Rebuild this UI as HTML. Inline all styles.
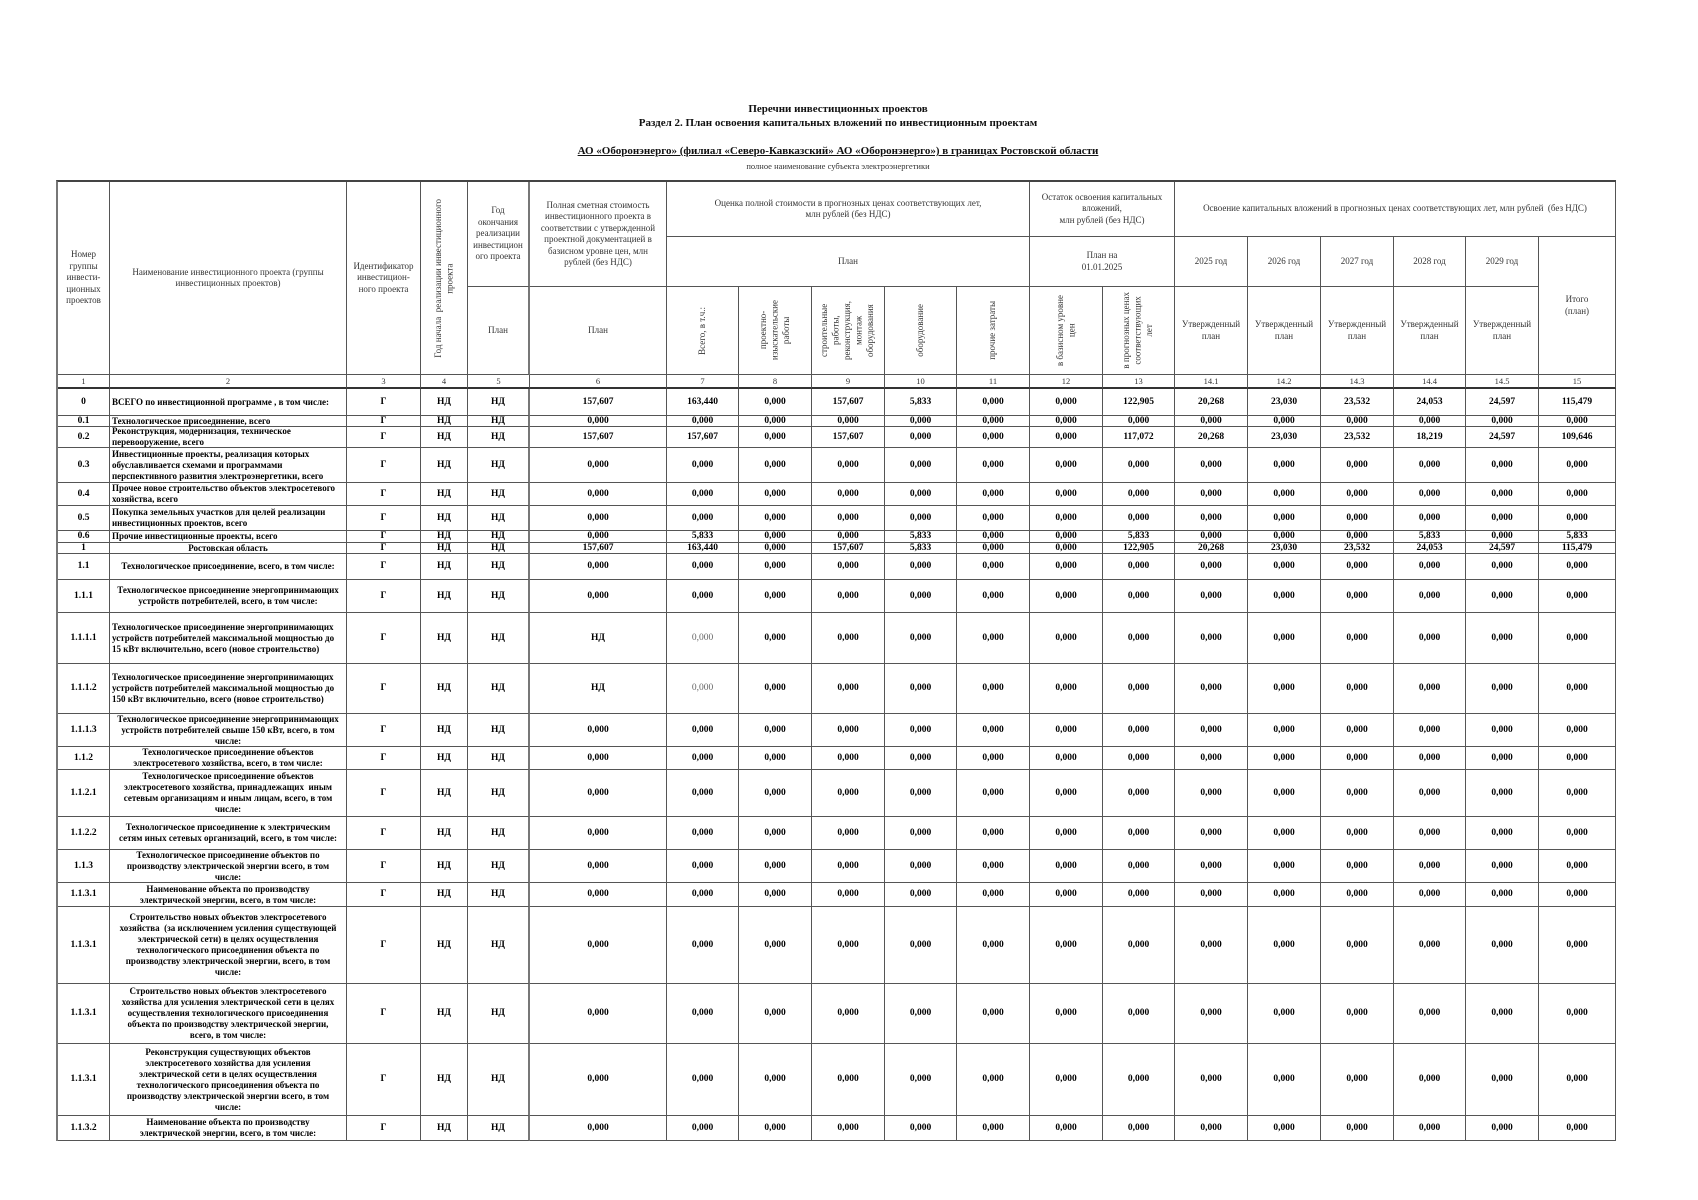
<!DOCTYPE html>
<html lang="ru">
<head>
<meta charset="utf-8">
<style>
html,body{margin:0;padding:0;background:#fff;}
body{width:1698px;height:1200px;position:relative;overflow:hidden;font-family:"Liberation Serif","DejaVu Serif",serif;color:#000;}
.t{position:absolute;left:0;width:1676px;text-align:center;font-weight:bold;font-size:11px;line-height:14px;color:#111;white-space:nowrap;}
.sub{font-weight:normal;font-size:8.5px;color:#333;}
.g{position:absolute;left:56px;top:180px;display:grid;
grid-template-columns:52px 237px 74px 47px 62px 137px 72px 73px 73px 72px 73px 73px 72px 73px 73px 73px 72px 73px 77px;
grid-template-rows:55px 50px 88px 14px 27px 11px 21px 35px 23px 25px 12px 11px 26px 33px 51px 50px 33px 23px 47px 33px 33px 24px 77px 60px 72px 25px;
border-left:2px solid #777;border-top:2px solid #444;}
.g>div{border-right:1px solid #555;border-bottom:1px solid #555;display:flex;align-items:center;justify-content:center;text-align:center;font-size:9.5px;font-weight:bold;line-height:11px;white-space:nowrap;overflow:visible;min-width:0;min-height:0;color:#000;}
.g>div.h{font-weight:normal;font-size:9px;line-height:11.5px;color:#333;}
.g>div.nr{font-weight:normal;font-size:8.5px;color:#333;line-height:10px;border-bottom:2px solid #333;}
.g>div.l{justify-content:flex-start;text-align:left;padding-left:2px;font-size:9px;}
.g>div.c{font-size:9px;}
.g>div.lt{font-weight:normal;color:#666;}
.v{writing-mode:vertical-rl;transform:rotate(180deg);text-align:center;}
.g>div.rb{border-right:2px solid #777;}
</style>
</head>
<body>
<div class="t" style="top:102px;">Перечни инвестиционных проектов</div>
<div class="t" style="top:116px;">Раздел 2. План освоения капитальных вложений по инвестиционным проектам</div>
<div class="t" style="top:144px;text-decoration:underline;">АО «Оборонэнерго» (филиал «Северо-Кавказский» АО «Оборонэнерго») в границах Ростовской области</div>
<div class="t sub" style="top:159px;">полное наименование субъекта электроэнергетики</div>

<div class="g">
<!-- header -->
<div class="h" style="grid-column:1;grid-row:1/4;">Номер<br>группы<br>инвести-<br>ционных<br>проектов</div>
<div class="h" style="grid-column:2;grid-row:1/4;">Наименование инвестиционного проекта (группы<br>инвестиционных проектов)</div>
<div class="h" style="grid-column:3;grid-row:1/4;">Идентификатор<br>инвестицион-<br>ного проекта</div>
<div class="h" style="grid-column:4;grid-row:1/4;"><span class="v">Год начала&nbsp; реализации инвестиционного<br>проекта</span></div>
<div class="h rb" style="grid-column:5;grid-row:1/3;">Год<br>окончания<br>реализации<br>инвестицион<br>ого проекта</div>
<div class="h" style="grid-column:6;grid-row:1/3;">Полная сметная стоимость<br>инвестиционного проекта в<br>соответствии с утвержденной<br>проектной документацией в<br>базисном уровне цен, млн<br>рублей (без НДС)</div>
<div class="h" style="grid-column:7/12;grid-row:1;">Оценка полной стоимости в прогнозных ценах соответствующих лет,<br>млн рублей (без НДС)</div>
<div class="h" style="grid-column:12/14;grid-row:1;">Остаток освоения капитальных<br>вложений,<br>млн рублей (без НДС)</div>
<div class="h" style="grid-column:14/20;grid-row:1;">Освоение капитальных вложений в прогнозных ценах соответствующих лет, млн рублей&nbsp; (без НДС)</div>
<div class="h" style="grid-column:7/12;grid-row:2;">План</div>
<div class="h" style="grid-column:12/14;grid-row:2;">План на<br>01.01.2025</div>
<div class="h" style="grid-column:14;grid-row:2;">2025 год</div>
<div class="h" style="grid-column:15;grid-row:2;">2026 год</div>
<div class="h" style="grid-column:16;grid-row:2;">2027 год</div>
<div class="h" style="grid-column:17;grid-row:2;">2028 год</div>
<div class="h" style="grid-column:18;grid-row:2;">2029 год</div>
<div class="h" style="grid-column:19;grid-row:2/4;">Итого<br>(план)</div>
<div class="h rb" style="grid-column:5;grid-row:3;">План</div>
<div class="h" style="grid-column:6;grid-row:3;">План</div>
<div class="h" style="grid-column:7;grid-row:3;"><span class="v">Всего, в т.ч.:</span></div>
<div class="h" style="grid-column:8;grid-row:3;"><span class="v">проектно-<br>изыскательские<br>работы</span></div>
<div class="h" style="grid-column:9;grid-row:3;"><span class="v">строительные<br>работы,<br>реконструкция,<br>монтаж<br>оборудования</span></div>
<div class="h" style="grid-column:10;grid-row:3;"><span class="v">оборудование</span></div>
<div class="h" style="grid-column:11;grid-row:3;"><span class="v">прочие затраты</span></div>
<div class="h" style="grid-column:12;grid-row:3;"><span class="v">в базисном уровне<br>цен</span></div>
<div class="h" style="grid-column:13;grid-row:3;"><span class="v">в прогнозных ценах<br>соответствующих<br>лет</span></div>
<div class="h" style="grid-column:14;grid-row:3;">Утвержденный<br>план</div>
<div class="h" style="grid-column:15;grid-row:3;">Утвержденный<br>план</div>
<div class="h" style="grid-column:16;grid-row:3;">Утвержденный<br>план</div>
<div class="h" style="grid-column:17;grid-row:3;">Утвержденный<br>план</div>
<div class="h" style="grid-column:18;grid-row:3;">Утвержденный<br>план</div>

<!-- number row -->
<div class="nr">1</div><div class="nr">2</div><div class="nr">3</div><div class="nr">4</div><div class="nr">5</div><div class="nr">6</div><div class="nr">7</div><div class="nr">8</div><div class="nr">9</div><div class="nr">10</div><div class="nr">11</div><div class="nr">12</div><div class="nr">13</div><div class="nr">14.1</div><div class="nr">14.2</div><div class="nr">14.3</div><div class="nr">14.4</div><div class="nr">14.5</div><div class="nr">15</div>

<!-- 0 -->
<div>0</div><div class="l">ВСЕГО по инвестиционной программе , в том числе:</div><div>Г</div><div>НД</div><div class="rb">НД</div><div>157,607</div><div>163,440</div><div>0,000</div><div>157,607</div><div>5,833</div><div>0,000</div><div>0,000</div><div>122,905</div><div>20,268</div><div>23,030</div><div>23,532</div><div>24,053</div><div>24,597</div><div>115,479</div>
<!-- 0.1 -->
<div>0.1</div><div class="l">Технологическое присоединение, всего</div><div>Г</div><div>НД</div><div class="rb">НД</div><div>0,000</div><div>0,000</div><div>0,000</div><div>0,000</div><div>0,000</div><div>0,000</div><div>0,000</div><div>0,000</div><div>0,000</div><div>0,000</div><div>0,000</div><div>0,000</div><div>0,000</div><div>0,000</div>
<!-- 0.2 -->
<div>0.2</div><div class="l">Реконструкция, модернизация, техническое<br>перевооружение, всего</div><div>Г</div><div>НД</div><div class="rb">НД</div><div>157,607</div><div>157,607</div><div>0,000</div><div>157,607</div><div>0,000</div><div>0,000</div><div>0,000</div><div>117,072</div><div>20,268</div><div>23,030</div><div>23,532</div><div>18,219</div><div>24,597</div><div>109,646</div>
<!-- 0.3 -->
<div>0.3</div><div class="l">Инвестиционные проекты, реализация которых<br>обуславливается схемами и программами<br>перспективного развития электроэнергетики, всего</div><div>Г</div><div>НД</div><div class="rb">НД</div><div>0,000</div><div>0,000</div><div>0,000</div><div>0,000</div><div>0,000</div><div>0,000</div><div>0,000</div><div>0,000</div><div>0,000</div><div>0,000</div><div>0,000</div><div>0,000</div><div>0,000</div><div>0,000</div>
<!-- 0.4 -->
<div>0.4</div><div class="l">Прочее новое строительство объектов электросетевого<br>хозяйства, всего</div><div>Г</div><div>НД</div><div class="rb">НД</div><div>0,000</div><div>0,000</div><div>0,000</div><div>0,000</div><div>0,000</div><div>0,000</div><div>0,000</div><div>0,000</div><div>0,000</div><div>0,000</div><div>0,000</div><div>0,000</div><div>0,000</div><div>0,000</div>
<!-- 0.5 -->
<div>0.5</div><div class="l">Покупка земельных участков для целей реализации<br>инвестиционных проектов, всего</div><div>Г</div><div>НД</div><div class="rb">НД</div><div>0,000</div><div>0,000</div><div>0,000</div><div>0,000</div><div>0,000</div><div>0,000</div><div>0,000</div><div>0,000</div><div>0,000</div><div>0,000</div><div>0,000</div><div>0,000</div><div>0,000</div><div>0,000</div>
<!-- 0.6 -->
<div>0.6</div><div class="l">Прочие инвестиционные проекты, всего</div><div>Г</div><div>НД</div><div class="rb">НД</div><div>0,000</div><div>5,833</div><div>0,000</div><div>0,000</div><div>5,833</div><div>0,000</div><div>0,000</div><div>5,833</div><div>0,000</div><div>0,000</div><div>0,000</div><div>5,833</div><div>0,000</div><div>5,833</div>
<!-- 1 -->
<div>1</div><div class="c">Ростовская область</div><div>Г</div><div>НД</div><div class="rb">НД</div><div>157,607</div><div>163,440</div><div>0,000</div><div>157,607</div><div>5,833</div><div>0,000</div><div>0,000</div><div>122,905</div><div>20,268</div><div>23,030</div><div>23,532</div><div>24,053</div><div>24,597</div><div>115,479</div>
<!-- 1.1 -->
<div>1.1</div><div class="c">Технологическое присоединение, всего, в том числе:</div><div>Г</div><div>НД</div><div class="rb">НД</div><div>0,000</div><div>0,000</div><div>0,000</div><div>0,000</div><div>0,000</div><div>0,000</div><div>0,000</div><div>0,000</div><div>0,000</div><div>0,000</div><div>0,000</div><div>0,000</div><div>0,000</div><div>0,000</div>
<!-- 1.1.1 -->
<div>1.1.1</div><div class="c">Технологическое присоединение энергопринимающих<br>устройств потребителей, всего, в том числе:</div><div>Г</div><div>НД</div><div class="rb">НД</div><div>0,000</div><div>0,000</div><div>0,000</div><div>0,000</div><div>0,000</div><div>0,000</div><div>0,000</div><div>0,000</div><div>0,000</div><div>0,000</div><div>0,000</div><div>0,000</div><div>0,000</div><div>0,000</div>
<!-- 1.1.1.1 -->
<div>1.1.1.1</div><div class="l">Технологическое присоединение энергопринимающих<br>устройств потребителей максимальной мощностью до<br>15 кВт включительно, всего (новое строительство)</div><div>Г</div><div>НД</div><div class="rb">НД</div><div>НД</div><div class="lt">0,000</div><div>0,000</div><div>0,000</div><div>0,000</div><div>0,000</div><div>0,000</div><div>0,000</div><div>0,000</div><div>0,000</div><div>0,000</div><div>0,000</div><div>0,000</div><div>0,000</div>
<!-- 1.1.1.2 -->
<div>1.1.1.2</div><div class="l">Технологическое присоединение энергопринимающих<br>устройств потребителей максимальной мощностью до<br>150 кВт включительно, всего (новое строительство)</div><div>Г</div><div>НД</div><div class="rb">НД</div><div>НД</div><div class="lt">0,000</div><div>0,000</div><div>0,000</div><div>0,000</div><div>0,000</div><div>0,000</div><div>0,000</div><div>0,000</div><div>0,000</div><div>0,000</div><div>0,000</div><div>0,000</div><div>0,000</div>
<!-- 1.1.1.3 -->
<div>1.1.1.3</div><div class="c">Технологическое присоединение энергопринимающих<br>устройств потребителей свыше 150 кВт, всего, в том<br>числе:</div><div>Г</div><div>НД</div><div class="rb">НД</div><div>0,000</div><div>0,000</div><div>0,000</div><div>0,000</div><div>0,000</div><div>0,000</div><div>0,000</div><div>0,000</div><div>0,000</div><div>0,000</div><div>0,000</div><div>0,000</div><div>0,000</div><div>0,000</div>
<!-- 1.1.2 -->
<div>1.1.2</div><div class="c">Технологическое присоединение объектов<br>электросетевого хозяйства, всего, в том числе:</div><div>Г</div><div>НД</div><div class="rb">НД</div><div>0,000</div><div>0,000</div><div>0,000</div><div>0,000</div><div>0,000</div><div>0,000</div><div>0,000</div><div>0,000</div><div>0,000</div><div>0,000</div><div>0,000</div><div>0,000</div><div>0,000</div><div>0,000</div>
<!-- 1.1.2.1 -->
<div>1.1.2.1</div><div class="c">Технологическое присоединение объектов<br>электросетевого хозяйства, принадлежащих&nbsp; иным<br>сетевым организациям и иным лицам, всего, в том<br>числе:</div><div>Г</div><div>НД</div><div class="rb">НД</div><div>0,000</div><div>0,000</div><div>0,000</div><div>0,000</div><div>0,000</div><div>0,000</div><div>0,000</div><div>0,000</div><div>0,000</div><div>0,000</div><div>0,000</div><div>0,000</div><div>0,000</div><div>0,000</div>
<!-- 1.1.2.2 -->
<div>1.1.2.2</div><div class="c">Технологическое присоединение к электрическим<br>сетям иных сетевых организаций, всего, в том числе:</div><div>Г</div><div>НД</div><div class="rb">НД</div><div>0,000</div><div>0,000</div><div>0,000</div><div>0,000</div><div>0,000</div><div>0,000</div><div>0,000</div><div>0,000</div><div>0,000</div><div>0,000</div><div>0,000</div><div>0,000</div><div>0,000</div><div>0,000</div>
<!-- 1.1.3 -->
<div>1.1.3</div><div class="c">Технологическое присоединение объектов по<br>производству электрической энергии всего, в том<br>числе:</div><div>Г</div><div>НД</div><div class="rb">НД</div><div>0,000</div><div>0,000</div><div>0,000</div><div>0,000</div><div>0,000</div><div>0,000</div><div>0,000</div><div>0,000</div><div>0,000</div><div>0,000</div><div>0,000</div><div>0,000</div><div>0,000</div><div>0,000</div>
<!-- 1.1.3.1 -->
<div>1.1.3.1</div><div class="c">Наименование объекта по производству<br>электрической энергии, всего, в том числе:</div><div>Г</div><div>НД</div><div class="rb">НД</div><div>0,000</div><div>0,000</div><div>0,000</div><div>0,000</div><div>0,000</div><div>0,000</div><div>0,000</div><div>0,000</div><div>0,000</div><div>0,000</div><div>0,000</div><div>0,000</div><div>0,000</div><div>0,000</div>
<!-- 1.1.3.1 big -->
<div>1.1.3.1</div><div class="c">Строительство новых объектов электросетевого<br>хозяйства&nbsp; (за исключением усиления существующей<br>электрической сети) в целях осуществления<br>технологического присоединения объекта по<br>производству электрической энергии, всего, в том<br>числе:</div><div>Г</div><div>НД</div><div class="rb">НД</div><div>0,000</div><div>0,000</div><div>0,000</div><div>0,000</div><div>0,000</div><div>0,000</div><div>0,000</div><div>0,000</div><div>0,000</div><div>0,000</div><div>0,000</div><div>0,000</div><div>0,000</div><div>0,000</div>
<!-- 1.1.3.1 -->
<div>1.1.3.1</div><div class="c">Строительство новых объектов электросетевого<br>хозяйства для усиления электрической сети в целях<br>осуществления технологического присоединения<br>объекта по производству электрической энергии,<br>всего, в том числе:</div><div>Г</div><div>НД</div><div class="rb">НД</div><div>0,000</div><div>0,000</div><div>0,000</div><div>0,000</div><div>0,000</div><div>0,000</div><div>0,000</div><div>0,000</div><div>0,000</div><div>0,000</div><div>0,000</div><div>0,000</div><div>0,000</div><div>0,000</div>
<!-- 1.1.3.1 -->
<div>1.1.3.1</div><div class="c">Реконструкция существующих объектов<br>электросетевого хозяйства для усиления<br>электрической сети в целях осуществления<br>технологического присоединения объекта по<br>производству электрической энергии всего, в том<br>числе:</div><div>Г</div><div>НД</div><div class="rb">НД</div><div>0,000</div><div>0,000</div><div>0,000</div><div>0,000</div><div>0,000</div><div>0,000</div><div>0,000</div><div>0,000</div><div>0,000</div><div>0,000</div><div>0,000</div><div>0,000</div><div>0,000</div><div>0,000</div>
<!-- 1.1.3.2 -->
<div>1.1.3.2</div><div class="c">Наименование объекта по производству<br>электрической энергии, всего, в том числе:</div><div>Г</div><div>НД</div><div class="rb">НД</div><div>0,000</div><div>0,000</div><div>0,000</div><div>0,000</div><div>0,000</div><div>0,000</div><div>0,000</div><div>0,000</div><div>0,000</div><div>0,000</div><div>0,000</div><div>0,000</div><div>0,000</div><div>0,000</div>
</div>
</body>
</html>
